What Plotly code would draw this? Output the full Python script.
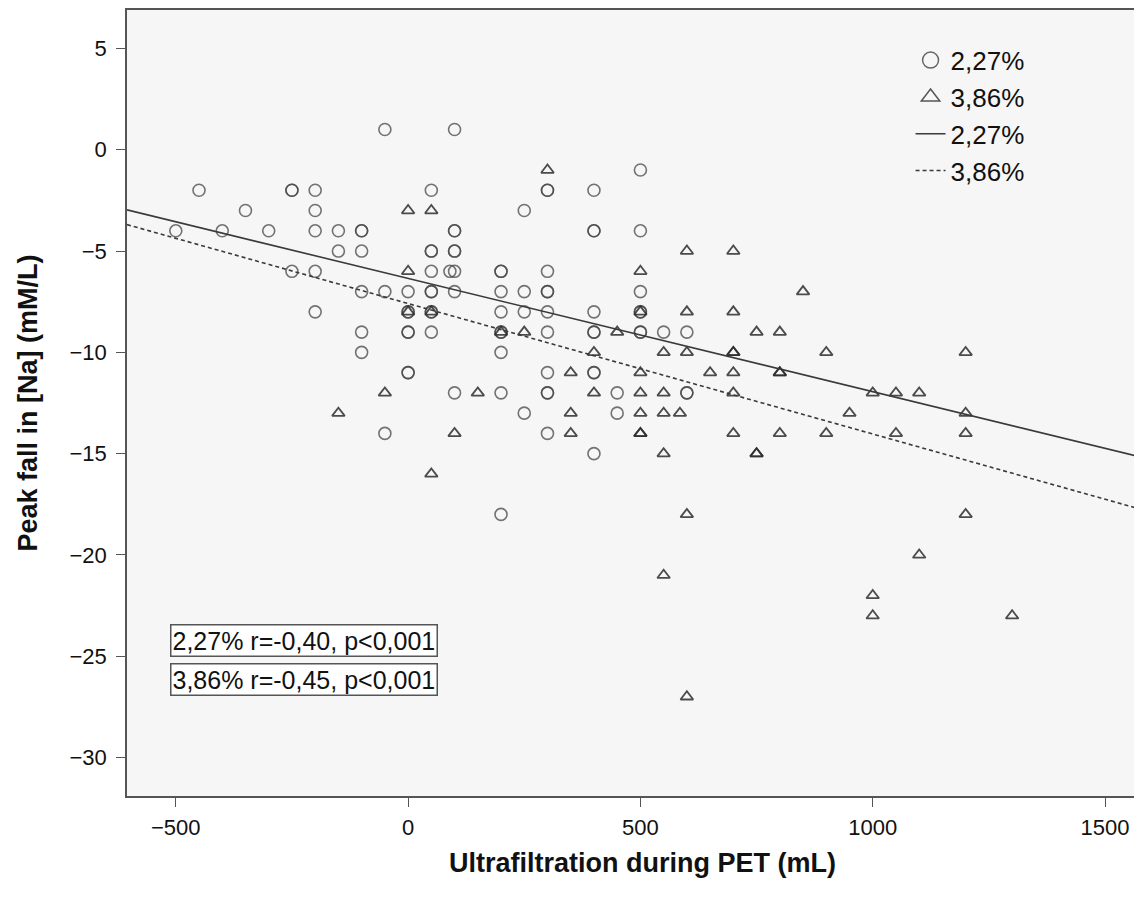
import numpy as np
import plotly.graph_objects as go

# 2,27% glucose (open circles)
circle_x = [-500, -450, -400, -350, -300, -250, -250, -250,
            -200, -200, -200, -200, -200, -150, -150,
            -100, -100, -100, -100, -100, -100, -50, -50, -50,
            0, 0, 0, 0, 0, 0, 0,
            50, 50, 50, 50, 50, 50, 50, 50, 50,
            90, 100, 100, 100, 100, 100, 100, 100, 100,
            200, 200, 200, 200, 200, 200, 200, 200, 200,
            250, 250, 250, 250,
            300, 300, 300, 300, 300, 300, 300, 300, 300, 300, 300,
            400, 400, 400, 400, 400, 400, 400, 400, 400,
            450, 450, 500, 500, 500, 500, 500, 500, 500,
            550, 600, 600, 600]
circle_y = [-4, -2, -4, -3, -4, -2, -2, -6,
            -2, -3, -4, -6, -8, -4, -5,
            -4, -4, -5, -7, -9, -10, 1, -7, -14,
            -7, -8, -8, -9, -9, -11, -11,
            -2, -5, -5, -6, -7, -7, -8, -8, -9,
            -6, -6, 1, -4, -4, -5, -5, -7, -12,
            -6, -6, -7, -8, -9, -9, -10, -12, -18,
            -3, -7, -8, -13,
            -2, -2, -6, -7, -7, -8, -9, -11, -12, -12, -14,
            -2, -4, -4, -8, -9, -9, -11, -11, -15,
            -12, -13, -1, -4, -7, -8, -8, -9, -9,
            -9, -9, -12, -12]

# 3,86% glucose (open triangles)
tri_x = [-150, -50, 0, 0, 0, 50, 50, 50, 100, 150, 200, 250, 300,
         350, 350, 350, 400, 400, 450,
         500, 500, 500, 500, 500, 500, 500,
         550, 550, 550, 550, 550, 585,
         600, 600, 600, 600, 600, 650,
         700, 700, 700, 700, 700, 700, 700,
         750, 750, 750, 800, 800, 800, 800, 850, 900, 900, 950,
         1000, 1000, 1000, 1050, 1050, 1100, 1100,
         1200, 1200, 1200, 1200, 1300]
tri_y = [-13, -12, -3, -6, -8, -3, -8, -16, -14, -12, -9, -9, -1,
         -11, -13, -14, -10, -12, -9,
         -6, -8, -11, -12, -13, -14, -14,
         -10, -12, -13, -15, -21, -13,
         -5, -8, -10, -18, -27, -11,
         -5, -8, -10, -10, -11, -12, -14,
         -9, -15, -15, -9, -11, -11, -14, -7, -10, -14, -13,
         -12, -22, -23, -12, -14, -12, -20,
         -10, -13, -14, -18, -23]

# Linear fit lines (intercept, slope)
fit_labels = ["2,27%", "3,86%"]
fit_intercepts = [-6.35, -7.59]
fit_slopes = [-0.00559, -0.00644]
fit_dashes = ["solid", "4px,3px"]

stat_texts = ["2,27% r=-0,40, p<0,001", "3,86% r=-0,45, p<0,001"]

x_range = [-605, 1614]
y_range = [-31.9, 6.9]

FONT = "Liberation Sans, Arial, sans-serif"
CIRC_COL = "rgba(70,70,70,0.75)"
TRI_COL = "rgba(45,45,45,0.85)"

fig = go.Figure()
fig.add_trace(go.Scatter(
    x=circle_x, y=circle_y, mode="markers", name="2,27%", showlegend=False,
    marker=dict(symbol="circle-open", size=12, color=CIRC_COL,
                line=dict(width=1.6, color=CIRC_COL))))
fig.add_trace(go.Scatter(
    x=tri_x, y=tri_y, mode="markers", name="3,86%", showlegend=False,
    marker=dict(symbol="triangle-up-open", size=11, color=TRI_COL,
                line=dict(width=1.8, color=TRI_COL))))

# legend entries with larger symbols (no data)
fig.add_trace(go.Scatter(
    x=[None], y=[None], mode="markers", name="2,27%",
    marker=dict(symbol="circle-open", size=16, color="#666",
                line=dict(width=1.5, color="#666"))))
fig.add_trace(go.Scatter(
    x=[None], y=[None], mode="markers", name="3,86%",
    marker=dict(symbol="triangle-up-open", size=16, color="#555",
                line=dict(width=1.5, color="#555"))))

xl = np.array(x_range, dtype=float)
for lab, b0, b1, dsh in zip(fit_labels, fit_intercepts, fit_slopes, fit_dashes):
    fig.add_trace(go.Scatter(
        x=xl, y=b0 + b1 * xl, mode="lines", name=lab,
        line=dict(color="#3a3a3a", width=1.6, dash=dsh)))

ann = []
for i, t in enumerate(stat_texts):
    ann.append(dict(
        text=t, xref="paper", yref="paper", x=0.042, y=0.198 - i * 0.050,
        xanchor="left", yanchor="middle", showarrow=False,
        font=dict(family=FONT, size=25, color="#111111"),
        bgcolor="white", bordercolor="#555555", borderwidth=1.5, borderpad=1))

fig.update_layout(
    width=1150, height=897,
    margin=dict(l=119, r=0, t=0, b=109),
    paper_bgcolor="white", plot_bgcolor="#f6f6f6",
    font=dict(family=FONT, size=22, color="#111111"),
    showlegend=True,
    legend=dict(x=0.76, y=0.966, xanchor="left", yanchor="top",
                bgcolor="rgba(0,0,0,0)", font=dict(size=26, family=FONT),
                itemwidth=30, tracegroupgap=0),
    annotations=ann,
    xaxis=dict(range=x_range, tickvals=[-500, 0, 500, 1000, 1500],
               showgrid=False, zeroline=False, ticks="outside", ticklen=9,
               tickcolor="#555", showline=True, linecolor="#555", linewidth=1.5,
               mirror=True, tickfont=dict(size=22), ticklabelstandoff=2,
               title=dict(text="<b>Ultrafiltration during PET (mL)</b>",
                          font=dict(size=27), standoff=14)),
    yaxis=dict(range=y_range, tickvals=[5, 0, -5, -10, -15, -20, -25, -30],
               showgrid=False, zeroline=False, ticks="outside", ticklen=9,
               tickcolor="#555", showline=True, linecolor="#555", linewidth=1.5,
               mirror=False, tickfont=dict(size=22), ticklabelstandoff=5,
               title=dict(text="<b>Peak fall in [Na] (mM/L)</b>",
                          font=dict(size=27), standoff=24)),
)

fig.write_html("out.html")
